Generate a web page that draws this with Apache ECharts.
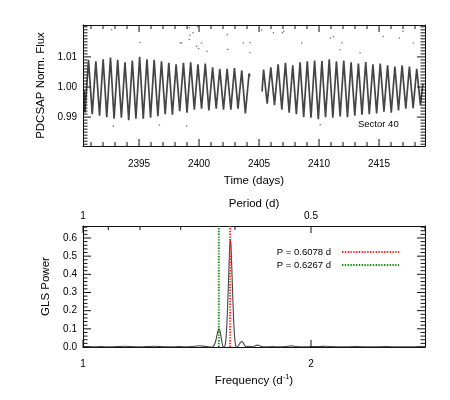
<!DOCTYPE html>
<html><head><meta charset="utf-8">
<script src="https://cdn.jsdelivr.net/npm/echarts@6/dist/echarts.min.js"></script>
<style>html,body{margin:0;padding:0;background:#fff}#c{width:450px;height:400px}</style>
</head><body><div id="c"></div>
<script>
// ---- Light curve (Sector 40): alternating trough / peak values
const lcTime1 = [2390.42,2390.49,2390.79,2391.10,2391.40,2391.71,2392.01,2392.31,2392.62,2392.92,2393.22,2393.53,2393.83,2394.14,2394.44,2394.74,2395.05,2395.35,2395.66,2395.96,2396.26,2396.57,2396.87,2397.18,2397.48,2397.78,2398.09,2398.39,2398.70,2399.00,2399.30,2399.61,2399.91,2400.21,2400.52,2400.82,2401.13,2401.43,2401.73,2402.04,2402.34,2402.65,2402.95,2403.25,2403.56,2403.86,2404.17,2404.24];
const lcFlux1 = [0.9990,0.9915,1.0090,0.9910,1.0085,0.9905,1.0092,0.9900,1.0098,0.9895,1.0090,0.9898,1.0082,0.9890,1.0088,0.9895,1.0100,0.9895,1.0092,0.9898,1.0090,0.9903,1.0085,0.9910,1.0080,0.9908,1.0075,0.9920,1.0080,0.9915,1.0082,0.9925,1.0075,0.9928,1.0078,0.9922,1.0065,0.9928,1.0060,0.9925,1.0060,0.9925,1.0063,0.9928,1.0055,0.9912,1.0045,1.0035];
const lcTime2 = [2405.25,2405.38,2405.68,2405.98,2406.29,2406.59,2406.90,2407.20,2407.51,2407.81,2408.11,2408.42,2408.72,2409.02,2409.33,2409.63,2409.94,2410.24,2410.54,2410.85,2411.15,2411.45,2411.76,2412.06,2412.37,2412.67,2412.98,2413.28,2413.58,2413.89,2414.19,2414.49,2414.80,2415.10,2415.41,2415.71,2416.02,2416.32,2416.62,2416.92,2417.23,2417.53,2417.84,2418.14,2418.45,2418.65];
const lcFlux2 = [0.9985,1.0058,0.9945,1.0065,0.9940,1.0075,0.9925,1.0080,0.9915,1.0072,0.9910,1.0082,0.9900,1.0085,0.9898,1.0088,0.9893,1.0086,0.9900,1.0092,0.9898,1.0085,0.9902,1.0088,0.9900,1.0082,0.9905,1.0078,0.9908,1.0083,0.9910,1.0075,0.9912,1.0078,0.9918,1.0072,0.9915,1.0068,0.9922,1.0072,0.9928,1.0068,0.9930,1.0060,0.9940,1.0010];
const outTime = [2392.72,2395.08,2398.44,2398.55,2399.19,2399.19,2399.25,2399.50,2399.80,2399.90,2399.97,2400.20,2400.67,2402.36,2402.40,2403.70,2404.25,2404.25,2405.22,2406.20,2406.94,2407.06,2408.55,2410.94,2411.20,2411.75,2411.92,2413.42,2415.35,2416.69,2417.00,2417.86,2392.86,2396.70,2398.97,2410.10];
const outFlux = [1.0190,1.0148,1.0147,1.0146,1.0197,1.0158,1.0172,1.0180,1.0135,1.0200,1.0128,1.0146,1.0119,1.0174,1.0125,1.0146,1.0147,1.0114,1.0189,1.0180,1.0180,1.0185,1.0146,1.0163,1.0168,1.0124,1.0147,1.0114,1.0168,1.0163,1.0185,1.0146,0.9870,0.9874,0.9870,0.9875];
const timeTicks = [2395, 2400, 2405, 2410, 2415];
const fluxTicks = [0.99, 1.00, 1.01];

// ---- GLS periodogram
const glsFreq = [1.000,1.040,1.080,1.120,1.160,1.185,1.210,1.250,1.290,1.315,1.340,1.380,1.420,1.460,1.490,1.510,1.530,1.550,1.565,1.574,1.580,1.586,1.591,1.596,1.600,1.605,1.610,1.614,1.619,1.624,1.628,1.632,1.636,1.640,1.643,1.646,1.649,1.652,1.656,1.660,1.664,1.668,1.672,1.678,1.684,1.690,1.697,1.704,1.710,1.716,1.724,1.732,1.742,1.752,1.760,1.767,1.775,1.784,1.800,1.830,1.860,1.890,1.913,1.935,1.960,2.000,2.040,2.065,2.090,2.130,2.200,2.260,2.330,2.400,2.500];
const glsPower = [0.002,0.001,0.002,0.001,0.003,0.004,0.002,0.001,0.003,0.004,0.002,0.001,0.002,0.001,0.004,0.007,0.004,0.001,0.000,0.008,0.025,0.055,0.085,0.100,0.092,0.060,0.022,0.003,0.000,0.015,0.060,0.150,0.280,0.430,0.540,0.595,0.560,0.460,0.310,0.170,0.070,0.018,0.000,0.002,0.012,0.024,0.030,0.020,0.006,0.001,0.004,0.003,0.001,0.004,0.009,0.011,0.007,0.002,0.001,0.002,0.001,0.003,0.006,0.003,0.001,0.002,0.003,0.004,0.002,0.001,0.002,0.001,0.002,0.001,0.001];
const periods = [0.6078, 0.6267];
const periodNames = ['P = 0.6078 d', 'P = 0.6267 d'];
const powerTicks = [0.0, 0.1, 0.2, 0.3, 0.4, 0.5, 0.6];
const freqTicks = [1, 2];
const periodMajor = [1, 0.5];
const periodMinor = [0.9, 0.8, 0.7, 0.6, 0.4];

// ---- styling
const FONT = '"Liberation Sans", Arial, Helvetica, sans-serif';
const AX = '#111';
const lineColors = ['#ff2a2a', '#1e8a1e'];
const T_MIN = 2390.33, T_MAX = 2418.83, F_MIN = 0.9804, F_MAX = 1.0206;
const P_MIN = 0, P_MAX = 0.666, FR_MIN = 1, FR_MAX = 2.5;

function steps(a, b, s) { const o = []; const n = Math.round((b - a) / s); for (let i = 0; i <= n; i++) o.push(+(a + i * s).toFixed(6)); return o; }
function notIn(arr, major, tol) { return arr.filter(v => !major.some(m => Math.abs(m - v) < tol)); }

function axis(base, label) {
  return Object.assign({
    type: 'value', splitLine: { show: false }, silent: true,
    axisLine: { show: true, onZero: false, lineStyle: { color: AX, width: 1 } },
    axisTick: { show: false },
    axisLabel: label ? Object.assign({ show: true, fontFamily: FONT, fontSize: 10, color: '#000' }, label) : { show: false }
  }, base);
}

const dayMinor = notIn(steps(2391, 2418, 1), timeTicks, 0.01);
const fluxMinor = notIn(steps(0.981, 1.020, 0.001), fluxTicks, 0.0001);
const powMinor = notIn(steps(0.02, 0.66, 0.02), powerTicks, 0.001);
const inv = v => 1 / v;

const nameStyle = { fontFamily: FONT, fontSize: 11.5, color: '#000' };

const xAxes = [
  axis({ gridIndex: 0, position: 'bottom', min: T_MIN, max: T_MAX, name: 'Time (days)', nameLocation: 'middle', nameGap: 29, nameTextStyle: nameStyle },
       { customValues: timeTicks, margin: 13, formatter: v => String(v) }),
  axis({ gridIndex: 0, position: 'top', min: T_MIN, max: T_MAX }, null),
  axis({ gridIndex: 1, position: 'bottom', min: FR_MIN, max: FR_MAX, name: 'Frequency (d{s|-1})', nameLocation: 'middle', nameGap: 26,
         nameTextStyle: Object.assign({ rich: { s: { fontFamily: FONT, fontSize: 7.5, color: '#000', verticalAlign: 'top', padding: [0, 0, 7, 0] } } }, nameStyle) },
       { customValues: freqTicks, margin: 12, formatter: v => String(v) }),
  axis({ gridIndex: 1, position: 'top', min: FR_MIN, max: FR_MAX, name: 'Period (d)', nameLocation: 'middle', nameGap: 15, nameTextStyle: nameStyle },
       { customValues: periodMajor.map(inv), margin: 5, formatter: v => String(+(1 / v).toFixed(3)) })
];
const yAxes = [
  axis({ gridIndex: 0, position: 'left', min: F_MIN, max: F_MAX, name: 'PDCSAP Norm. Flux', nameLocation: 'middle', nameGap: 35, nameTextStyle: nameStyle },
       { customValues: fluxTicks, margin: 6, formatter: v => v.toFixed(2) }),
  axis({ gridIndex: 0, position: 'right', min: F_MIN, max: F_MAX }, null),
  axis({ gridIndex: 1, position: 'left', min: P_MIN, max: P_MAX, name: 'GLS Power', nameLocation: 'middle', nameGap: 28, nameTextStyle: nameStyle },
       { customValues: powerTicks, margin: 6, formatter: v => v.toFixed(1) }),
  axis({ gridIndex: 1, position: 'right', min: P_MIN, max: P_MAX }, null)
];

// tick marks drawn inward on all four sides through the axis scales
// side: 0 bottom, 1 top, 2 left, 3 right
function tickItems(vals, sides, len) { const o = []; vals.forEach(v => sides.forEach(s => o.push([v, s, len]))); return o; }
function tickSeries(xi, yi, xMin, yMin, items) {
  return {
    type: 'custom', xAxisIndex: xi, yAxisIndex: yi, silent: true, clip: false, z: 10, data: items,
    renderItem: (params, api) => {
      const cs = params.coordSys;
      const v = api.value(0), side = api.value(1), len = api.value(2);
      let x1, y1, x2, y2;
      if (side < 2) {
        x1 = x2 = api.coord([v, yMin])[0];
        if (side === 0) { y1 = cs.y + cs.height; y2 = y1 - len; } else { y1 = cs.y; y2 = y1 + len; }
      } else {
        y1 = y2 = api.coord([xMin, v])[1];
        if (side === 2) { x1 = cs.x; x2 = x1 + len; } else { x1 = cs.x + cs.width; x2 = x1 - len; }
      }
      return { type: 'line', shape: { x1, y1, x2, y2 }, style: { stroke: AX, lineWidth: 1 } };
    }
  };
}
const ticks0 = [].concat(
  tickItems(timeTicks, [0, 1], 7), tickItems(dayMinor, [0, 1], 4),
  tickItems(fluxTicks, [2, 3], 8), tickItems(fluxMinor, [2, 3], 4.5));
const ticks1 = [].concat(
  tickItems(freqTicks, [0], 7),
  tickItems(periodMajor.map(inv), [1], 7), tickItems(periodMinor.map(inv), [1], 4),
  tickItems(powerTicks, [2, 3], 8), tickItems(powMinor, [2, 3], 4.5));

const zip = (a, b) => a.map((v, i) => [v, b[i]]);
const series = [
  { type: 'line', xAxisIndex: 0, yAxisIndex: 0, data: zip(lcTime1, lcFlux1), symbol: 'none', silent: true,
    lineStyle: { color: '#252525', width: 1.7, opacity: 0.85 } },
  { type: 'line', xAxisIndex: 0, yAxisIndex: 0, data: zip(lcTime2, lcFlux2), symbol: 'none', silent: true,
    lineStyle: { color: '#252525', width: 1.7, opacity: 0.85 } },
  { type: 'scatter', xAxisIndex: 0, yAxisIndex: 0, data: zip(outTime, outFlux), symbolSize: 1.6, silent: true,
    itemStyle: { color: '#555' } },
  { type: 'line', xAxisIndex: 2, yAxisIndex: 2, data: zip(glsFreq, glsPower), symbol: 'none', smooth: 0.2, silent: true,
    lineStyle: { color: '#444', width: 1.1 } },
  tickSeries(0, 0, T_MIN, F_MIN, ticks0),
  tickSeries(2, 2, FR_MIN, P_MIN, ticks1)
];
periods.forEach((p, i) => {
  series.push({ type: 'line', name: periodNames[i], xAxisIndex: 2, yAxisIndex: 2, symbol: 'none', silent: true,
    data: [[1 / p, P_MIN], [1 / p, P_MAX]], color: lineColors[i],
    lineStyle: { color: lineColors[i], width: 2, type: [1.4, 1.4] } });
});

const chart = echarts.init(document.getElementById('c'), null, { renderer: 'canvas' });
chart.setOption({
  animation: false,
  backgroundColor: '#fff',
  grid: [
    { left: 83, top: 25, width: 342, height: 121 },
    { left: 83, top: 226, width: 342, height: 121 }
  ],
  xAxis: xAxes,
  yAxis: yAxes,
  legend: {
    data: periodNames, orient: 'vertical', right: 45, top: 242, align: 'right',
    itemWidth: 57, itemHeight: 10, itemGap: 3, selectedMode: false,
    itemStyle: { opacity: 0 },
    textStyle: { fontFamily: FONT, fontSize: 9.5, color: '#000', padding: [0, 6, 0, 0] }
  },
  graphic: [
    { type: 'text', left: 358, top: 119, silent: true,
      style: { text: 'Sector 40', fontFamily: FONT, fontSize: 9.5, fill: '#000' } }
  ],
  series: series
});
</script>
</body></html>
